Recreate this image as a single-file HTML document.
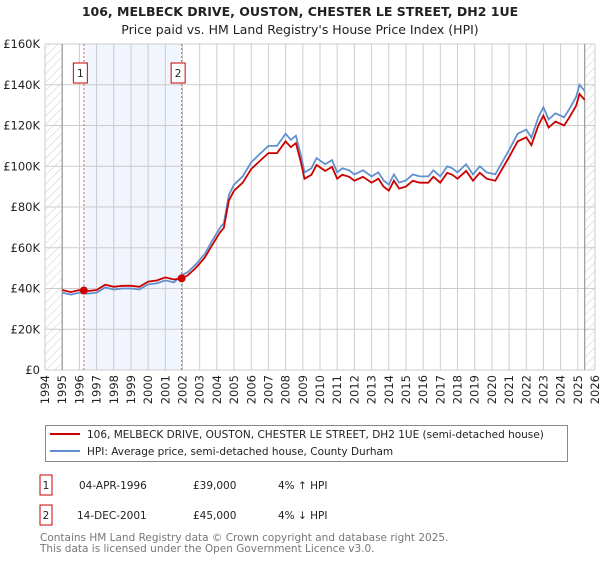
<!DOCTYPE html>
<html><head><meta charset="utf-8"><style>
body{margin:0;background:#fff;font-family:"DejaVu Sans","Liberation Sans",sans-serif;}
svg text{font-family:"DejaVu Sans","Liberation Sans",sans-serif;}
</style></head><body>
<svg id="chart" width="600" height="560" xmlns="http://www.w3.org/2000/svg">
<defs><pattern id="hatch" patternUnits="userSpaceOnUse" width="6" height="6" patternTransform="rotate(45)"><line x1="0" y1="0" x2="0" y2="6" stroke="#ccc" stroke-width="1"/></pattern></defs>
<text x="300" y="16" text-anchor="middle" font-size="12.5" font-weight="bold" fill="#222">106, MELBECK DRIVE, OUSTON, CHESTER LE STREET, DH2 1UE</text>
<text x="300" y="34" text-anchor="middle" font-size="12.5" fill="#222">Price paid vs. HM Land Registry's House Price Index (HPI)</text>
<g id="plot"></g>
<rect x="45.5" y="425.5" width="522" height="36" fill="#fff" stroke="#888"/>
<line x1="50" y1="434" x2="80" y2="434" stroke="#cc0000" stroke-width="2"/>
<text x="87" y="438" font-size="10.5" fill="#222">106, MELBECK DRIVE, OUSTON, CHESTER LE STREET, DH2 1UE (semi-detached house)</text>
<line x1="50" y1="451" x2="80" y2="451" stroke="#6090d0" stroke-width="2"/>
<text x="87" y="455" font-size="10.5" fill="#222">HPI: Average price, semi-detached house, County Durham</text>
<g font-size="10.5" fill="#222">
<rect x="40" y="475" width="12" height="20" fill="#fff" stroke="#cc0000"/><text x="46" y="489" text-anchor="middle">1</text>
<text x="79" y="489">04-APR-1996</text><text x="193" y="489">£39,000</text><text x="278" y="489">4% ↑ HPI</text></g>
<g font-size="10.5" fill="#222">
<rect x="40" y="505" width="12" height="20" fill="#fff" stroke="#cc0000"/><text x="46" y="519" text-anchor="middle">2</text>
<text x="77" y="519">14-DEC-2001</text><text x="193" y="519">£45,000</text><text x="278" y="519">4% ↓ HPI</text></g>
<text x="40" y="541" font-size="10.5" fill="#777">Contains HM Land Registry data © Crown copyright and database right 2025.</text>
<text x="40" y="552" font-size="10.5" fill="#777">This data is licensed under the Open Government Licence v3.0.</text>
</svg>
<script>
const hpiYears=[1995.0,1995.5,1996.0,1996.5,1997.0,1997.5,1998.0,1998.5,1999.0,1999.5,2000.0,2000.5,2001.0,2001.5,2001.95,2002.3,2002.8,2003.3,2003.7,2004.2,2004.4,2004.7,2005.0,2005.5,2006.0,2006.5,2007.0,2007.5,2008.0,2008.3,2008.6,2008.9,2009.1,2009.5,2009.8,2010.3,2010.7,2011.0,2011.3,2011.7,2012.0,2012.5,2013.0,2013.4,2013.7,2014.0,2014.3,2014.6,2015.0,2015.4,2015.8,2016.3,2016.6,2017.0,2017.4,2017.7,2018.0,2018.5,2018.9,2019.3,2019.7,2020.2,2020.6,2021.0,2021.5,2022.0,2022.3,2022.7,2023.0,2023.3,2023.7,2024.2,2024.5,2024.9,2025.1,2025.4];
const hpiValues=[38,37,38,37.5,38,40.5,39.5,40,40,39.5,42,42.5,44,43,46.5,48,52,57,63,70,72,86,91,95,102,106,110,110,116,113,115,105,97,99,104,101,103,97,99,98,96,98,95,97,93,91,96,92,93,96,95,95,98,95,100,99,97,101,96,100,97,96,102,108,116,118,114,124,129,123,126,124,128,134,140,137];
const saleYears=[1996.26,2001.95];
const salePrices=[39,45];
const saleLabels=["1","2"];
const yTicks=[0,20,40,60,80,100,120,140,160];
const xTicks=[1994,1995,1996,1997,1998,1999,2000,2001,2002,2003,2004,2005,2006,2007,2008,2009,2010,2011,2012,2013,2014,2015,2016,2017,2018,2019,2020,2021,2022,2023,2024,2025,2026];
const X0=45,X1=595,Y0=370,Y1=44;
const xs=y=>X0+(y-1994)/32*(X1-X0);
const ys=v=>Y0-v/160*(Y0-Y1);
const NS="http://www.w3.org/2000/svg";
const g=document.getElementById('plot');
function mk(t,a){const e=document.createElementNS(NS,t);for(const k in a)e.setAttribute(k,a[k]);g.appendChild(e);return e;}
function interp(t){for(let i=0;i<hpiYears.length-1;i++){if(t<=hpiYears[i+1]){const f=(t-hpiYears[i])/(hpiYears[i+1]-hpiYears[i]);return hpiValues[i]+f*(hpiValues[i+1]-hpiValues[i]);}}return hpiValues[hpiValues.length-1];}
let e;
e=mk('rect',{x:xs(saleYears[0]),y:Y1,width:xs(saleYears[1])-xs(saleYears[0]),height:Y0-Y1,fill:'#eef3fc',opacity:0.8});


e=mk('rect',{x:X0,y:Y1,width:xs(1995)-X0,height:Y0-Y1,fill:'url(#hatch)'});


const last=hpiYears[hpiYears.length-1];
e=mk('rect',{x:xs(last),y:Y1,width:X1-xs(last),height:Y0-Y1,fill:'url(#hatch)'});


yTicks.forEach(v=>{
 e=mk('line',{x1:X0,x2:X1,y1:ys(v),y2:ys(v),stroke:'#ccc'});
 
 
 e=mk('text',{x:X0-5,y:ys(v)+4,'text-anchor':'end','font-size':'11.5',fill:'#222'});
 e.textContent=v===0?'£0':'£'+v+'K';
 
 
});
xTicks.forEach(yr=>{
 e=mk('line',{x1:xs(yr),x2:xs(yr),y1:Y1,y2:Y0,stroke:'#ccc'});
 
 
 e=mk('text',{transform:`translate(${xs(yr)+4},${Y0+5}) rotate(-90)`,'text-anchor':'end','font-size':'11.5',fill:'#222'});
 e.textContent=yr;
 
 
});
e=mk('line',{x1:xs(1995),x2:xs(1995),y1:Y1,y2:Y0,stroke:'#888'});


e=mk('line',{x1:xs(last),x2:xs(last),y1:Y1,y2:Y0,stroke:'#888'});


saleYears.forEach((sy,i)=>{
 e=mk('line',{x1:xs(sy),x2:xs(sy),y1:Y1,y2:Y0,stroke:'#e06060','stroke-dasharray':'2,2'});
 
 
 e=mk('rect',{x:xs(sy)-10.5,y:63,width:14,height:20,fill:'#fff',stroke:'#cc0000'});
 
 
 e=mk('text',{x:xs(sy)-3.5,y:77,'text-anchor':'middle','font-size':'10.5',fill:'#222'});
 e.textContent=saleLabels[i];
 
 
});
let d=hpiYears.map((t,i)=>(i?'L':'M')+xs(t).toFixed(1)+','+ys(hpiValues[i]).toFixed(1)).join('');
e=mk('path',{d:d,fill:'none',stroke:'#6090d0','stroke-width':1.8});


const f1=salePrices[0]/interp(saleYears[0]),f2=salePrices[1]/interp(saleYears[1]);
d=hpiYears.map((t,i)=>(i?'L':'M')+xs(t).toFixed(1)+','+ys(hpiValues[i]*(t<saleYears[1]?f1:f2)).toFixed(1)).join('');
e=mk('path',{d:d,fill:'none',stroke:'#cc0000','stroke-width':1.8});


saleYears.forEach((sy,i)=>{
 e=mk('circle',{cx:xs(sy),cy:ys(salePrices[i]),r:4,fill:'#cc0000'});
 
 
});
</script>
</body></html>
